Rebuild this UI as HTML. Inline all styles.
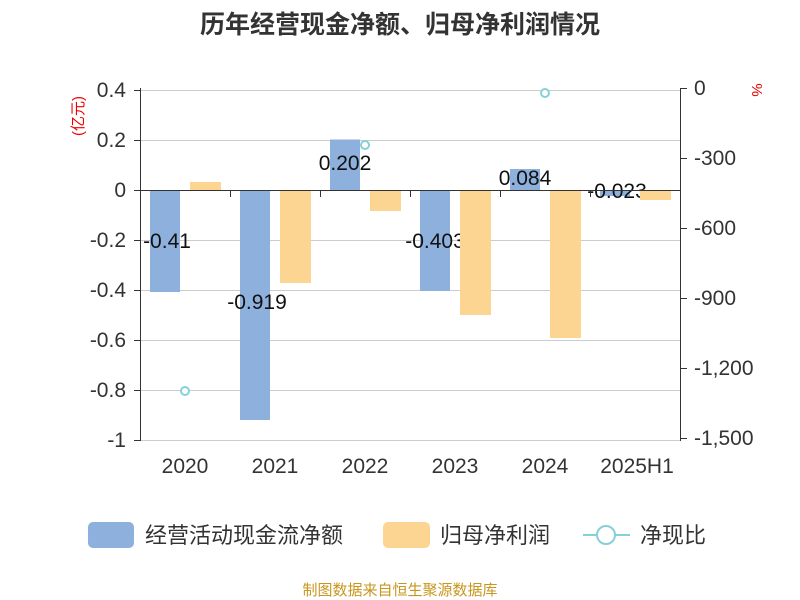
<!DOCTYPE html>
<html><head><meta charset="utf-8"><style>
html,body{margin:0;padding:0;background:#fff;}
svg{display:block;font-family:"Liberation Sans","Noto Sans CJK SC",sans-serif;}
</style></head><body>
<svg width="800" height="600" viewBox="0 0 800 600" xmlns="http://www.w3.org/2000/svg">
<rect width="800" height="600" fill="#fff"/>
<text x="400" y="33" text-anchor="middle" font-size="25" font-weight="bold" fill="#333">历年经营现金净额、归母净利润情况</text>
<g stroke="#ccc" stroke-width="1">
<line x1="140" y1="90.5" x2="680" y2="90.5"/><line x1="140" y1="140.5" x2="680" y2="140.5"/>
<line x1="140" y1="240.5" x2="680" y2="240.5"/><line x1="140" y1="290.5" x2="680" y2="290.5"/>
<line x1="140" y1="340.5" x2="680" y2="340.5"/><line x1="140" y1="390.5" x2="680" y2="390.5"/>
<line x1="140" y1="440.5" x2="680" y2="440.5"/>
</g>
<g stroke="#333" stroke-width="1">
<line x1="140.5" y1="88" x2="140.5" y2="441"/><line x1="680.5" y1="88" x2="680.5" y2="441"/>
<line x1="134" y1="90.5" x2="140" y2="90.5"/><line x1="134" y1="140.5" x2="140" y2="140.5"/><line x1="134" y1="190.5" x2="140" y2="190.5"/><line x1="134" y1="240.5" x2="140" y2="240.5"/><line x1="134" y1="290.5" x2="140" y2="290.5"/><line x1="134" y1="340.5" x2="140" y2="340.5"/><line x1="134" y1="390.5" x2="140" y2="390.5"/><line x1="134" y1="440.5" x2="140" y2="440.5"/>
<line x1="680" y1="88.5" x2="687" y2="88.5"/><line x1="680" y1="158.5" x2="687" y2="158.5"/><line x1="680" y1="228.5" x2="687" y2="228.5"/><line x1="680" y1="298.5" x2="687" y2="298.5"/><line x1="680" y1="368.5" x2="687" y2="368.5"/><line x1="680" y1="438.5" x2="687" y2="438.5"/>
</g>
<g font-size="21" fill="#333" text-anchor="end">
<text x="126" y="97">0.4</text><text x="126" y="147">0.2</text><text x="126" y="197">0</text><text x="126" y="247">-0.2</text><text x="126" y="297">-0.4</text><text x="126" y="347">-0.6</text><text x="126" y="397">-0.8</text><text x="126" y="447">-1</text>
</g>
<g font-size="21" fill="#333">
<text x="694" y="95">0</text><text x="694" y="165">-300</text><text x="694" y="235">-600</text><text x="694" y="305">-900</text><text x="694" y="375">-1,200</text><text x="694" y="445">-1,500</text>
</g>
<text transform="translate(83,116) rotate(-90)" text-anchor="middle" font-size="15" fill="#e00">(亿元)</text>
<text transform="translate(752,90) rotate(90)" text-anchor="middle" font-size="15" fill="#e00">%</text>
<g fill="#8eb0dc">
<rect x="150" y="190" width="30" height="102"/>
<rect x="240" y="190" width="30" height="230"/>
<rect x="330" y="139.5" width="30" height="50.5"/>
<rect x="420" y="190" width="30" height="101"/>
<rect x="510" y="169" width="30" height="21"/>
<rect x="600" y="190" width="30" height="6"/>
</g>
<g font-size="21" fill="#111" text-anchor="middle">
<text x="167" y="248">-0.41</text>
<text x="257" y="309">-0.919</text>
<text x="345" y="170">0.202</text>
<text x="435" y="248">-0.403</text>
<text x="525" y="185">0.084</text>
<text x="617" y="198">-0.023</text>
</g>
<g fill="#fdd592">
<rect x="190" y="182" width="31" height="8"/>
<rect x="280" y="190" width="31" height="93"/>
<rect x="370" y="190" width="31" height="21"/>
<rect x="460" y="190" width="31" height="125"/>
<rect x="550" y="190" width="31" height="148"/>
<rect x="640" y="190" width="31" height="10"/>
</g>
<g stroke="#333" stroke-width="1">
<line x1="140" y1="190.5" x2="680" y2="190.5"/>
<line x1="230.5" y1="190" x2="230.5" y2="197"/><line x1="320.5" y1="190" x2="320.5" y2="197"/><line x1="410.5" y1="190" x2="410.5" y2="197"/><line x1="500.5" y1="190" x2="500.5" y2="197"/><line x1="590.5" y1="190" x2="590.5" y2="197"/>
</g>
<g fill="#fff" stroke="#86d0d8" stroke-width="2">
<circle cx="185" cy="391" r="4"/><circle cx="365" cy="145" r="4"/><circle cx="545" cy="93" r="4"/>
</g>
<g font-size="21" fill="#333" text-anchor="middle">
<text x="185" y="473">2020</text><text x="275" y="473">2021</text><text x="365" y="473">2022</text><text x="455" y="473">2023</text><text x="545" y="473">2024</text><text x="637" y="473">2025H1</text>
</g>
<rect x="88" y="522" width="46" height="26" rx="5" fill="#8eb0dc"/>
<text x="145" y="543" font-size="22" fill="#333">经营活动现金流净额</text>
<rect x="383" y="522" width="47" height="26" rx="5" fill="#fdd592"/>
<text x="440" y="543" font-size="22" fill="#333">归母净利润</text>
<line x1="583" y1="535" x2="630" y2="535" stroke="#86d0d8" stroke-width="2"/>
<circle cx="606" cy="535" r="9" fill="#fff" stroke="#86d0d8" stroke-width="2"/>
<text x="640" y="543" font-size="22" fill="#333">净现比</text>
<text x="400" y="595" text-anchor="middle" font-size="15" fill="#c8961e">制图数据来自恒生聚源数据库</text>
</svg>
</body></html>
